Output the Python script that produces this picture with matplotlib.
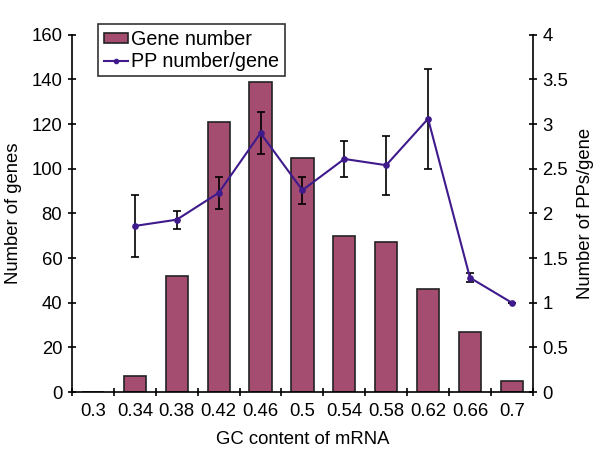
import matplotlib.pyplot as plt
import numpy as np
from matplotlib.lines import Line2D

plt.rcParams['font.family'] = ['Liberation Sans', 'DejaVu Sans']

gc_labels = ['0.3', '0.34', '0.38', '0.42', '0.46', '0.5', '0.54', '0.58', '0.62', '0.66', '0.7']
gene_number = [0, 7, 52, 121, 139, 105, 70, 67, 46, 27, 5]

# PP number per gene (starts at 0.34)
pp_labels = ['0.34', '0.38', '0.42', '0.46', '0.5', '0.54', '0.58', '0.62', '0.66', '0.7']
pp_mean = [1.86, 1.93, 2.23, 2.90, 2.26, 2.61, 2.54, 3.06, 1.28, 1.0]
pp_err = [0.35, 0.10, 0.18, 0.24, 0.15, 0.20, 0.33, 0.56, 0.05, 0.0]

bar_color = '#a44d71'
line_color = '#3f1a8c'
fs = 13.3

fig = plt.figure(figsize=(6, 4.58), dpi=100)
ax = fig.add_axes([0.12, 0.144, 0.768, 0.78])

x = np.arange(len(gc_labels))
bars = ax.bar(x, gene_number, width=0.53, color=bar_color, edgecolor='#222222', linewidth=1.2,
              label='Gene number')

ax.set_xlim(-0.5, len(gc_labels) - 0.5)
ax.set_ylim(0, 160)
ax.set_yticks(np.arange(0, 161, 20))
ax.set_xticks(np.arange(-0.5, len(gc_labels), 1))
ax.set_xticklabels([])
ax.set_xticks(x, minor=True)
ax.set_xticklabels(gc_labels, minor=True)
ax.tick_params(axis='x', which='minor', length=0, labelsize=fs, pad=8)
ax.tick_params(axis='x', which='major', direction='inout', length=5.5, width=1.2)
ax.tick_params(axis='y', direction='inout', length=6, width=1.2, labelsize=fs, pad=4)
ax.spines['top'].set_visible(False)
ax.spines['right'].set_visible(False)
for s in ['left', 'bottom']:
    ax.spines[s].set_linewidth(1.2)
ax.set_xlabel('GC content of mRNA', fontsize=fs, labelpad=8)
ax.set_ylabel('Number of genes', fontsize=fs, labelpad=7)

ax2 = ax.twinx()
xp = [gc_labels.index(l) for l in pp_labels]
ax2.errorbar(xp, pp_mean, yerr=pp_err, color=line_color, marker='o', markersize=3.8,
             linewidth=1.5, ecolor='black', elinewidth=1.2, capsize=3, capthick=1.2)
ax2.set_ylim(0, 4)
ax2.set_yticks(np.arange(0, 4.01, 0.5))
ax2.set_yticklabels(['%g' % v for v in np.arange(0, 4.01, 0.5)])
ax2.tick_params(axis='y', direction='inout', length=6, width=1.2, labelsize=fs, pad=4)
ax2.spines['top'].set_visible(False)
ax2.spines['left'].set_visible(False)
ax2.spines['bottom'].set_visible(False)
ax2.spines['right'].set_linewidth(1.2)
ax2.set_ylabel('Number of PPs/gene', fontsize=fs, labelpad=6)

h_line = Line2D([], [], color=line_color, marker='o', markersize=3, linewidth=1.5)
leg = fig.legend([bars, h_line], ['Gene number', 'PP number/gene'],
                 loc='upper left', bbox_to_anchor=(0.164, 0.947), fontsize=14.2,
                 frameon=True, fancybox=False, edgecolor='black', handlelength=1.2,
                 handleheight=0.4, handletextpad=0.15, borderpad=0.3, labelspacing=0.12,
                 borderaxespad=0)
leg.get_frame().set_linewidth(1.2)

fig.savefig('out.png', dpi=100)
